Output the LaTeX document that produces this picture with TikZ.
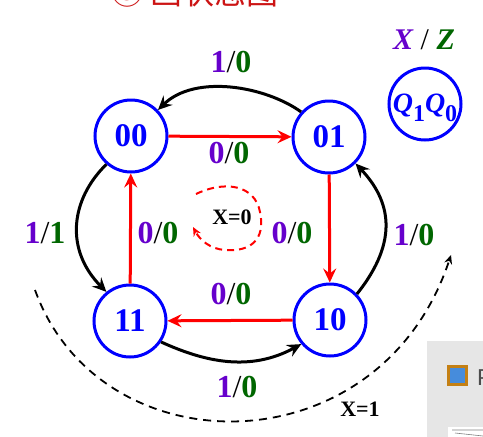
\documentclass[tikz,border=0pt]{standalone}
\usepackage{fontspec}
\setmainfont{Liberation Serif}
\setsansfont{Liberation Sans}
\newfontfamily\cjk{Noto Sans CJK SC}
\usetikzlibrary{arrows.meta, positioning}
\usepackage{xcolor}

\definecolor{stateblue}{RGB}{0,0,255}
\definecolor{inpurple}{RGB}{102,0,204}
\definecolor{outgreen}{RGB}{0,102,0}
\definecolor{titlered}{RGB}{204,20,20}
\definecolor{panelgray}{RGB}{230,230,230}
\definecolor{iconbrown}{RGB}{196,128,20}
\definecolor{iconblue}{RGB}{70,140,220}

\newcommand{\io}[2]{\textcolor{inpurple}{#1}\textmd{/}\textcolor{outgreen}{#2}}

\tikzset{
  state/.style={circle, draw=stateblue, line width=3pt, minimum size=72pt, inner sep=0pt, text=stateblue, font=\bfseries\fontsize{33}{33}\selectfont},
  iolabel/.style={inner sep=0pt, font=\bfseries\fontsize{32}{32}\selectfont},
  condlabel/.style={inner sep=0pt, font=\bfseries\fontsize{22}{22}\selectfont},
  trans/.style={line width=3pt, -{Stealth[length=14pt,width=13pt,inset=5pt]}},
}

\begin{document}
\begin{tikzpicture}[x=1pt, y=-1pt]
    \useasboundingbox (0,0) rectangle (483,437);
    \clip (0,0) rectangle (483,437);

    % Title
    \node (title) [anchor=base west, inner sep=0pt, text=titlered, font=\cjk\fontsize{32}{32}\selectfont] at (111,4) {③ 画状态图};

    % Nodes
    \node (s00) [state] at (131,136) {00};
    \node (s01) [state] at (329,137) {01};
    \node (s11) [state] at (130,321) {11};
    \node (s10) [state] at (330,320) {10};
    \node (legend) [state, font=\bfseries\fontsize{28}{28}\selectfont] at (425,104) {\raisebox{0pt}[17pt][0pt]{\itshape Q\raisebox{-9pt}{\upshape\fontsize{24}{24}\selectfont 1}Q\raisebox{-9pt}{\upshape\fontsize{24}{24}\selectfont 0}}};
    \node (key) [inner sep=0pt, font=\bfseries\itshape\fontsize{30}{30}\selectfont] at (424,40) {\textcolor{inpurple}{X} \textmd{\upshape/} \textcolor{outgreen}{Z}};

    % Labels
    \node (l0100) [iolabel] at (231,62) {\io{1}{0}};
    \node (l0001) [iolabel] at (229,153) {\io{0}{0}};
    \node (l0011) [iolabel] at (45,233) {\io{1}{1}};
    \node (l1100) [iolabel] at (158,233) {\io{0}{0}};
    \node (l0110) [iolabel] at (292,233) {\io{0}{0}};
    \node (l1001) [iolabel] at (414,235) {\io{1}{0}};
    \node (l1011) [iolabel] at (231,294) {\io{0}{0}};
    \node (l1110) [iolabel] at (237,387) {\io{1}{0}};
    \node (xzero) [condlabel] at (232,217) {X=0};
    \node (xone) [condlabel] at (360,409) {X=1};

    % Arrows
    \draw[trans, red] (s00) -- (s01);
    \draw[trans, red] (s01) -- (s10);
    \draw[trans, red] (s10) -- (s11);
    \draw[trans, red] (s11) -- (s00);
    \draw[trans] (s01.138) .. controls (265,86) and (195,74) .. (s00.44);
    \draw[trans] (s00.229) .. controls (70,200) and (65,250) .. (s11.129);
    \draw[trans] (s10.44) .. controls (400,240) and (390,200) .. (s01.315);
    \draw[trans] (s11.326) .. controls (205,362) and (250,372) .. (s10.220);

    % X=0 loop
    \coordinate (loopa) at (196,194);
    \coordinate (loopb) at (260,212);
    \coordinate (loopc) at (225,250);
    \coordinate (loopd) at (193,227);
    \draw[red, line width=2pt, dash pattern=on 7pt off 5pt, -{Stealth[length=9pt,width=8pt,inset=3pt]}]
        (loopa) .. controls (225,180) and (255,185) .. (loopb)
        .. controls (266,240) and (250,252) .. (loopc)
        .. controls (210,249) and (200,240) .. (loopd);

    % X=1 arc
    \coordinate (arca) at (35,290);
    \coordinate (arcb) at (451,255);
    \draw[line width=1.8pt, dash pattern=on 8pt off 6pt, -{Stealth[length=9pt,width=8pt,inset=3pt]}]
        (arca) .. controls (100,470) and (380,470) .. (arcb);

    % Side panel
    \fill[panelgray] (427,341) rectangle (483,437);
    \fill[iconbrown] (447,365) rectangle (468,386);
    \fill[iconblue] (450,368) rectangle (465,383);
    \node (ptext) [anchor=base west, inner sep=0pt, font=\sffamily\fontsize{23}{23}\selectfont, text=black!70] at (477,385) {P};
    \fill[white] (448,427) rectangle (483,437);
    \draw[gray, line width=0.6pt] (452,430) -- (483,430) (455,433) -- (483,436);
\end{tikzpicture}
\end{document}
